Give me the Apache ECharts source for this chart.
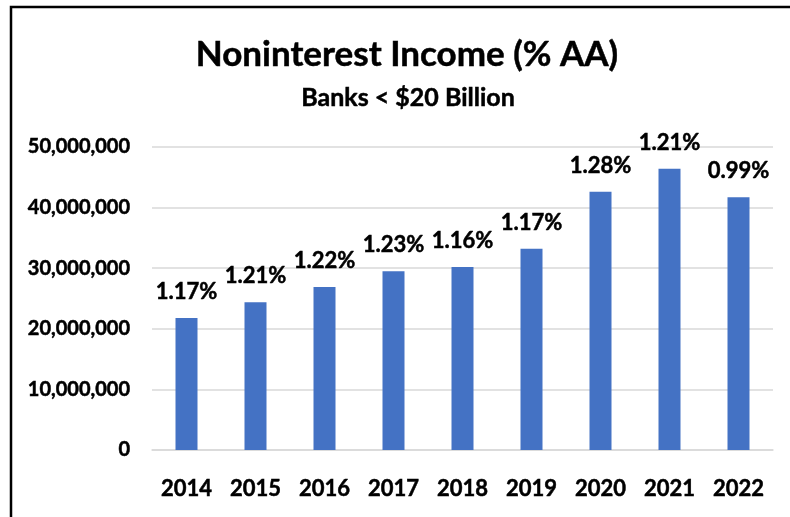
<!DOCTYPE html>
<html>
<head>
<meta charset="utf-8">
<script src="https://cdn.jsdelivr.net/npm/echarts@6/dist/echarts.min.js"></script>
<style>
  html, body { margin: 0; padding: 0; background: #fff; }
  #chart { width: 790px; height: 517px; }
</style>
</head>
<body>
<div id="chart"></div>
<script>
// Noninterest income for banks under $20 billion, with ratio to average assets
const years = ['2014', '2015', '2016', '2017', '2018', '2019', '2020', '2021', '2022'];
const income = [21800000, 24400000, 26900000, 29500000, 30200000, 33200000, 42600000, 46400000, 41700000];
const pctOfAssets = ['1.17%', '1.21%', '1.22%', '1.23%', '1.16%', '1.17%', '1.28%', '1.21%', '0.99%'];
const yTicks = { min: 0, max: 50000000, interval: 10000000 };

const FONT = 'Lato';
// a thin outline in the text colour gives the bold face a little extra weight
const heavy = { fontFamily: FONT, fontWeight: 'bold', color: '#000', textBorderColor: '#000', textBorderWidth: 0.5 };

const chart = echarts.init(document.getElementById('chart'), null, { renderer: 'canvas' });

chart.setOption({
  animation: false,
  backgroundColor: '#ffffff',
  title: [
    {
      text: 'Noninterest Income (% AA)',
      left: 402, top: 32, textAlign: 'center',
      textStyle: Object.assign({}, heavy, { fontSize: 35 })
    },
    {
      text: 'Banks < $20 Billion',
      left: 403, top: 80, textAlign: 'center',
      textStyle: Object.assign({}, heavy, { fontSize: 25 })
    }
  ],
  graphic: [
    {
      type: 'rect', silent: true,
      shape: { x: 11, y: 7, width: 820, height: 540 },
      style: { fill: 'none', stroke: '#000', lineWidth: 2.5 }
    }
  ],
  grid: { left: 152, right: 17, top: 147, bottom: 67, containLabel: false },
  xAxis: {
    type: 'category',
    data: years,
    axisLine: { show: true, lineStyle: { color: '#d9d9d9', width: 1.5 } },
    axisTick: { show: false },
    axisLabel: Object.assign({ margin: 28, fontSize: 22 }, heavy)
  },
  yAxis: {
    type: 'value',
    min: yTicks.min, max: yTicks.max, interval: yTicks.interval,
    axisLine: { show: false },
    axisTick: { show: false },
    splitLine: { lineStyle: { color: '#d9d9d9', width: 1.5 } },
    axisLabel: Object.assign({
      margin: 22, fontSize: 20,
      formatter: v => v.toLocaleString('en-US')
    }, heavy)
  },
  series: [
    {
      type: 'bar',
      data: income,
      barWidth: 22,
      itemStyle: { color: '#4472C4' },
      label: Object.assign({
        show: true, position: 'top', distance: 15, fontSize: 22,
        formatter: p => pctOfAssets[p.dataIndex]
      }, heavy)
    }
  ]
});
</script>
</body>
</html>
